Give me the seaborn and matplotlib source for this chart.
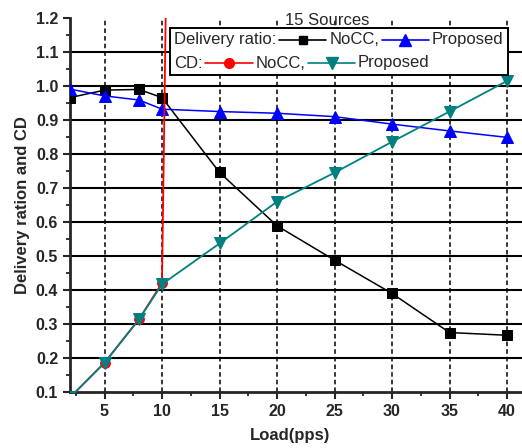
#Delivery ratio and CD vs load, 15 sources: NoCC vs Proposed

import numpy as np
import pandas as pd
import matplotlib
matplotlib.use("Agg")
import matplotlib.pyplot as plt
from matplotlib.lines import Line2D
from matplotlib.offsetbox import TextArea, DrawingArea, HPacker, VPacker, AnchoredOffsetbox
from matplotlib.ticker import MultipleLocator
import seaborn as sns

# Values
load = [2, 5, 8, 10, 15, 20, 25, 30, 35, 40]
dr_nocc = [0.965, 0.987, 0.989, 0.965, 0.745, 0.588, 0.487, 0.389, 0.274, 0.266]
dr_prop = [0.99, 0.97, 0.958, 0.931, 0.924, 0.919, 0.909, 0.887, 0.867, 0.848]
cd_prop = [0.083, 0.185, 0.313, 0.416, 0.536, 0.659, 0.744, 0.835, 0.924, 1.014]
# NoCC CD shoots up after 10 pps (off the chart)
load_cd_nocc = [2, 5, 8, 10, 15]
cd_nocc = [0.083, 0.185, 0.313, 0.42, 12.6]

sns.set_style("ticks")
plt.rcParams['font.family'] = ['Liberation Sans', 'DejaVu Sans']

fig = plt.figure(figsize=(5.22, 4.48), dpi=100)
# axes runs past the right edge, like the cropped original
ax = fig.add_axes([70/522, (448-391.7)/448, (530-70)/522, (391.7-17.7)/448])

df1 = pd.DataFrame({'load': load, 'nocc': dr_nocc, 'prop': dr_prop, 'cdp': cd_prop})
df2 = pd.DataFrame({'load': load_cd_nocc, 'cdn': cd_nocc})

sns.lineplot(df1, x='load', y='nocc', color='black', marker='s', markersize=7,
             markeredgecolor='black', lw=1.1, ax=ax, zorder=3)
sns.lineplot(df1, x='load', y='prop', color='blue', marker='^', markersize=8,
             markeredgecolor='blue', lw=1.1, ax=ax, zorder=3)
sns.lineplot(df2, x='load', y='cdn', color='red', marker='o', markersize=7,
             markeredgecolor='red', lw=1.3, ax=ax, zorder=4)
sns.lineplot(df1, x='load', y='cdp', color='#008080', marker='v', markersize=8,
             markeredgecolor='#008080', lw=1.3, ax=ax, zorder=5)

ax.set_xlim(2, 42)
ax.set_ylim(0.1, 1.2)
ax.set_xticks([5, 10, 15, 20, 25, 30, 35, 40])
ax.xaxis.set_minor_locator(MultipleLocator(2.5))
ax.yaxis.set_minor_locator(MultipleLocator(0.05))
ax.set_yticks(np.arange(0.1, 1.21, 0.1))
ax.set_yticklabels(['%.1f' % v for v in np.arange(0.1, 1.21, 0.1)])
ax.tick_params(which='major', direction='out', length=5, width=1.5, labelsize=11.5)
ax.tick_params(which='minor', direction='out', length=3, width=1.3)
ax.tick_params(axis='x', which='minor', bottom=True)
ax.tick_params(axis='y', which='minor', left=True)
for lab in ax.get_xticklabels() + ax.get_yticklabels():
    lab.set_fontweight('bold')

# grid: dashed verticals, solid horizontals
ax.grid(False)
for xv in [5, 10, 15, 20, 25, 30, 35, 40]:
    ax.axvline(xv, color='black', ls=(0, (3, 2)), lw=1.1, zorder=1)
for yv in np.arange(0.2, 1.15, 0.1):
    ax.axhline(yv, color='black', lw=1.5, zorder=1)

for s in ['top', 'right']:
    ax.spines[s].set_visible(False)
ax.spines['left'].set_linewidth(2)
ax.spines['bottom'].set_linewidth(2)

ax.set_xlabel('Load(pps)', fontsize=12, fontweight='bold')
ax.set_ylabel('Delivery ration and CD', fontsize=12, fontweight='bold')
ax.xaxis.set_label_coords((290-70)/460, -0.098)
ax.yaxis.set_label_coords(-0.087, 0.5)

ax.text((327-70)/460, (391.7-25)/374, '15 Sources', transform=ax.transAxes,
        fontsize=12, ha='center', va='baseline', zorder=7)


def handle(color, marker, ms):
    da = DrawingArea(34, 10, 0, 0)
    da.add_artist(Line2D([0, 34], [5, 5], color=color, lw=1.2))
    da.add_artist(Line2D([17], [5], color=color, marker=marker, markersize=ms))
    return da


tp = dict(fontsize=12)
row1 = HPacker(children=[TextArea('Delivery ratio:', textprops=tp), handle('black', 's', 6),
                         TextArea('NoCC,', textprops=tp), handle('blue', '^', 8),
                         TextArea('Proposed', textprops=tp)], align='center', pad=0, sep=2)
row2 = HPacker(children=[TextArea('CD:', textprops=tp), handle('red', 'o', 7),
                         TextArea('NoCC,', textprops=tp), handle('#008080', 'v', 8),
                         TextArea('Proposed', textprops=tp)], align='center', pad=0, sep=2)
box = VPacker(children=[row1, row2], align='left', pad=0, sep=6)
anch = AnchoredOffsetbox(loc='upper left', child=box, pad=0.3, borderpad=0, frameon=True,
                         bbox_to_anchor=((170-70)/460, (391.7-28)/374), bbox_transform=ax.transAxes)
anch.patch.set_edgecolor('black')
anch.patch.set_linewidth(1.4)
anch.zorder = 6
ax.add_artist(anch)

fig.savefig('out.png', dpi=100)
